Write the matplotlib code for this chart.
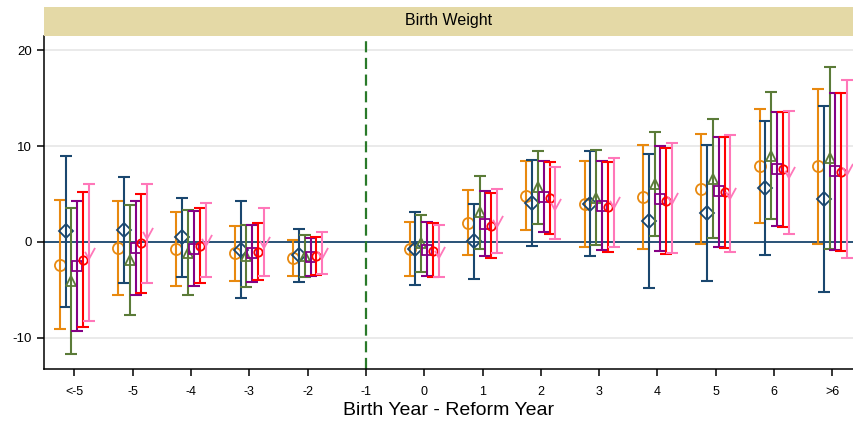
import numpy as np
import matplotlib
matplotlib.use("Agg")
import matplotlib.pyplot as plt
from matplotlib.path import Path
from matplotlib.patches import Rectangle

plt.rcParams['font.family'] = ['Liberation Sans', 'DejaVu Sans']
plt.rcParams['axes.unicode_minus'] = False

# ---- data ----
categories = ["<-5", "-5", "-4", "-3", "-2", "-1", "0", "1", "2", "3", "4", "5", "6", ">6"]
nan = np.nan

orange_est = [-2.4, -0.6, -0.7, -1.2, -1.7, nan, -0.7, 2.0, 4.8, 4.0, 4.7, 5.5, 7.9, 7.9]
orange_lo  = [-9.1, -5.5, -4.6, -4.1, -3.5, nan, -3.6, -1.4, 1.2, -0.5, -0.7, -0.2, 2.0, -0.2]
orange_hi  = [4.4, 4.3, 3.1, 1.7, 0.2, nan, 2.1, 5.4, 8.5, 8.5, 10.1, 11.3, 13.9, 16.0]

navy_est = [1.1, 1.2, 0.5, -0.8, -1.4, nan, -0.7, 0.1, 4.1, 4.0, 2.2, 3.0, 5.6, 4.5]
navy_lo  = [-6.8, -4.3, -3.7, -5.8, -4.2, nan, -4.5, -3.9, -0.4, -1.5, -4.8, -4.1, -1.4, -5.2]
navy_hi  = [9.0, 6.8, 4.6, 4.3, 1.4, nan, 3.1, 4.0, 8.6, 9.5, 9.2, 10.1, 12.6, 14.2]

green_est = [-4.1, -1.9, -1.1, -1.5, -1.5, nan, -0.1, 3.1, 5.7, 4.6, 6.0, 6.6, 9.0, 8.8]
green_lo  = [-11.7, -7.6, -5.5, -4.7, -3.7, nan, -3.1, -0.7, 1.9, -0.3, 0.6, 0.4, 2.4, -0.7]
green_hi  = [3.5, 3.9, 3.3, 1.8, 0.7, nan, 2.8, 6.9, 9.5, 9.6, 11.5, 12.8, 15.7, 18.3]

purple_est = [-2.5, -0.6, -0.7, -1.2, -1.6, nan, -0.8, 1.9, 4.7, 3.8, 4.5, 5.3, 7.6, 7.4]
purple_lo  = [-9.3, -5.5, -4.6, -4.2, -3.5, nan, -3.6, -1.5, 1.0, -0.8, -0.9, -0.5, 1.7, -0.8]
purple_hi  = [4.3, 4.3, 3.2, 1.8, 0.4, nan, 2.1, 5.3, 8.4, 8.4, 10.0, 11.0, 13.6, 15.6]

red_est = [-1.9, -0.1, -0.4, -1.0, -1.5, nan, -0.9, 1.7, 4.6, 3.6, 4.3, 5.2, 7.6, 7.3]
red_lo  = [-8.9, -5.3, -4.3, -4.0, -3.4, nan, -3.7, -1.7, 0.8, -1.0, -1.3, -0.6, 1.6, -0.9]
red_hi  = [5.2, 5.0, 3.5, 2.0, 0.5, nan, 2.0, 5.1, 8.3, 8.3, 9.8, 11.0, 13.6, 15.5]

pink_est = [-1.1, 0.9, 0.2, 0.0, -1.2, nan, -1.0, 2.2, 4.0, 4.2, 4.6, 5.1, 7.3, 7.6]
pink_lo  = [-8.3, -4.3, -3.7, -3.5, -3.3, nan, -3.7, -1.1, 0.3, -0.5, -1.1, -1.0, 0.8, -1.7]
pink_hi  = [6.1, 6.0, 4.1, 3.5, 1.0, nan, 1.8, 5.5, 7.8, 8.8, 10.3, 11.2, 13.7, 16.9]

yticks = [-10, 0, 10, 20]
title = "Birth Weight"
xlabel = "Birth Year - Reform Year"

# ---- styles ----
check = Path([(-0.4, 0.15), (-0.05, -0.5), (0.5, 0.5)],
             [Path.MOVETO, Path.LINETO, Path.LINETO])

series = [
    (orange_est, orange_lo, orange_hi, '#e8890f', 'o', 8.0),
    (navy_est, navy_lo, navy_hi, '#1a476f', 'D', 7.2),
    (green_est, green_lo, green_hi, '#5b7b38', '^', 7.5),
    (purple_est, purple_lo, purple_hi, '#850085', 's', 7.0),
    (red_est, red_lo, red_hi, '#ff0000', 'o', 6.0),
    (pink_est, pink_lo, pink_hi, '#ff77b9', check, 8.0),
]
offsets = [-0.25, -0.15, -0.05, 0.05, 0.15, 0.25]

W, H = 854, 421
fig = plt.figure(figsize=(W / 100, H / 100), dpi=100)
ax_left, ax_right, ax_top, ax_bot = 44, 854, 35.7, 369.3
ax = fig.add_axes([ax_left / W, (H - ax_bot) / H, (ax_right - ax_left) / W, (ax_bot - ax_top) / H])

# title band
fig.patches.append(Rectangle((ax_left / W, (H - ax_top) / H), (ax_right - ax_left) / W, 29 / H,
                             transform=fig.transFigure, facecolor='#e4d9a6', edgecolor='none'))
fig.text((ax_left + ax_right) / 2 / W, (H - 20) / H, title, ha='center', va='center', fontsize=11.5)

x = np.arange(len(categories))
ax.axhline(0, color='#1a476f', lw=1.3, zorder=1.5)
ax.axvline(5, color='#2a7a2a', lw=1.6, ls=(0, (5, 2.5)), zorder=1.6)

for (est, lo, hi, col, mk, ms), off in zip(series, offsets):
    est = np.array(est, float); lo = np.array(lo, float); hi = np.array(hi, float)
    m = ~np.isnan(est)
    ax.errorbar(x[m] + off, est[m], yerr=[est[m] - lo[m], hi[m] - est[m]],
                fmt='none', ecolor=col, elinewidth=1.5, capsize=4.2, capthick=1.5, zorder=2)
    ax.plot(x[m] + off, est[m], linestyle='none', marker=mk, markersize=ms,
            markerfacecolor='none', markeredgecolor=col, markeredgewidth=1.3, zorder=2)

ax.set_xlim(-0.52, 13.37)
ax.set_ylim(-13.29, 21.53)
ax.set_xticks(x)
ax.set_xticklabels(categories, fontsize=9)
ax.set_yticks(yticks)
ax.set_yticklabels([str(t) for t in yticks], fontsize=9.5)
ax.yaxis.grid(True, color='#e8e8e8', lw=1.3, zorder=0)
ax.set_axisbelow(True)
for s in ['top', 'right']:
    ax.spines[s].set_visible(False)
for s in ['left', 'bottom']:
    ax.spines[s].set_linewidth(1.1)
    ax.spines[s].set_color('black')
ax.tick_params(axis='both', direction='out', length=5, width=1.1, colors='black')
ax.tick_params(axis='x', pad=7)
ax.set_xlabel(xlabel, fontsize=14, labelpad=3)

fig.savefig("out.png", dpi=100)
